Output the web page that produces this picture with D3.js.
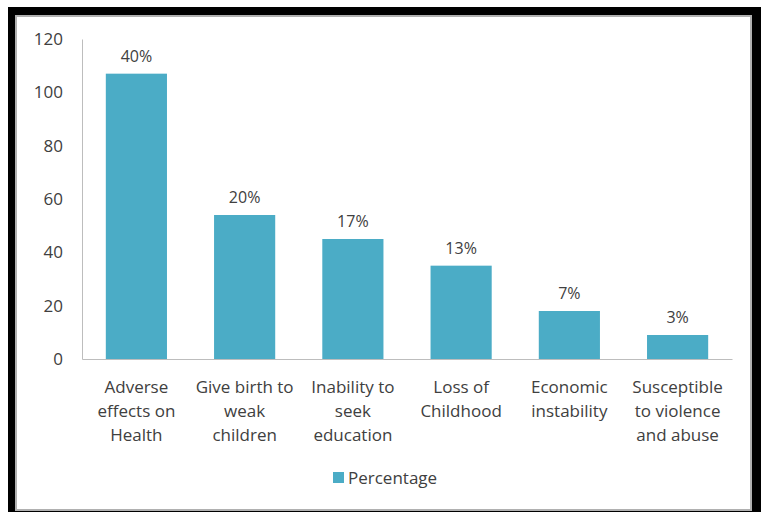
<!DOCTYPE html>
<html>
<head>
<meta charset="utf-8">
<script src="https://cdn.jsdelivr.net/npm/d3@7"></script>
<style>
  html, body { margin: 0; padding: 0; background: #fff; }
  svg { display: block; }
  text { font-family: "Open Sans", Lato, sans-serif; fill: #404040; }
</style>
</head>
<body>
<svg id="chart" width="761" height="512"></svg>
<script>
// Chart data
const categories = [
  ["Adverse", "effects on", "Health"],
  ["Give birth to", "weak", "children"],
  ["Inability to", "seek", "education"],
  ["Loss of", "Childhood"],
  ["Economic", "instability"],
  ["Susceptible", "to violence", "and abuse"]
];
const values = [107, 54, 45, 35, 18, 9];
const percentLabels = ["40%", "20%", "17%", "13%", "7%", "3%"];
const yTicks = [0, 20, 40, 60, 80, 100, 120];
const seriesName = "Percentage";

const svg = d3.select("#chart");
const W = 761, H = 512;
const font = "'Open Sans', Lato, sans-serif";

// Frame: black border around the chart area
svg.append("rect").attr("x", 8).attr("y", 7).attr("width", W - 8).attr("height", H - 7).attr("fill", "#000");
svg.append("rect").attr("x", 16).attr("y", 16).attr("width", 735).attr("height", 494)
  .attr("fill", "#fff").attr("stroke", "#b0b0b0").attr("stroke-width", 2);

const plot = { left: 82, right: 732, top: 39, bottom: 359 };

const x = d3.scaleBand()
  .domain(d3.range(categories.length))
  .range([plot.left, plot.right])
  .paddingInner(0.435)
  .paddingOuter(0.22);

const y = d3.scaleLinear().domain([0, 120]).range([plot.bottom, plot.top]);

// Y axis
const yAxis = d3.axisLeft(y).tickValues(yTicks).tickSize(0).tickPadding(19);
const gy = svg.append("g").attr("transform", `translate(${plot.left},0)`).call(yAxis);
gy.select(".domain").attr("stroke", "#bdbdbd").attr("stroke-width", 1);
gy.selectAll("text").attr("font-size", 17).attr("fill", "#404040").style("font-family", font);

// Bars
svg.append("g").selectAll("rect").data(values).join("rect")
  .attr("x", (d, i) => x(i))
  .attr("y", d => y(d))
  .attr("width", x.bandwidth())
  .attr("height", d => y(0) - y(d))
  .attr("fill", "#4BACC6");

// X axis
const xAxis = d3.axisBottom(x).tickSize(0).tickFormat(() => "");
const gx = svg.append("g").attr("transform", `translate(0,${plot.bottom})`).call(xAxis);
gx.select(".domain").attr("stroke", "#bdbdbd").attr("stroke-width", 1);

// Category labels (multi-line)
const catG = svg.append("g");
categories.forEach((lines, i) => {
  const cx = x(i) + x.bandwidth() / 2;
  const t = catG.append("text")
    .attr("text-anchor", "middle")
    .attr("font-size", 17)
    .attr("x", cx)
    .attr("y", 393);
  lines.forEach((ln, j) => {
    t.append("tspan").attr("x", cx).attr("dy", j === 0 ? 0 : 24).text(ln);
  });
});

// Value labels
svg.append("g").selectAll("text").data(values).join("text")
  .attr("text-anchor", "middle")
  .attr("font-size", 16)
  .attr("x", (d, i) => x(i) + x.bandwidth() / 2)
  .attr("y", d => y(d) - 12)
  .text((d, i) => percentLabels[i]);

// Legend
const lg = svg.append("g").attr("transform", "translate(333,472)");
lg.append("rect").attr("width", 11).attr("height", 11).attr("fill", "#4BACC6");
lg.append("text").attr("x", 15).attr("y", 11.5).attr("font-size", 17).text(seriesName);
</script>
</body>
</html>
